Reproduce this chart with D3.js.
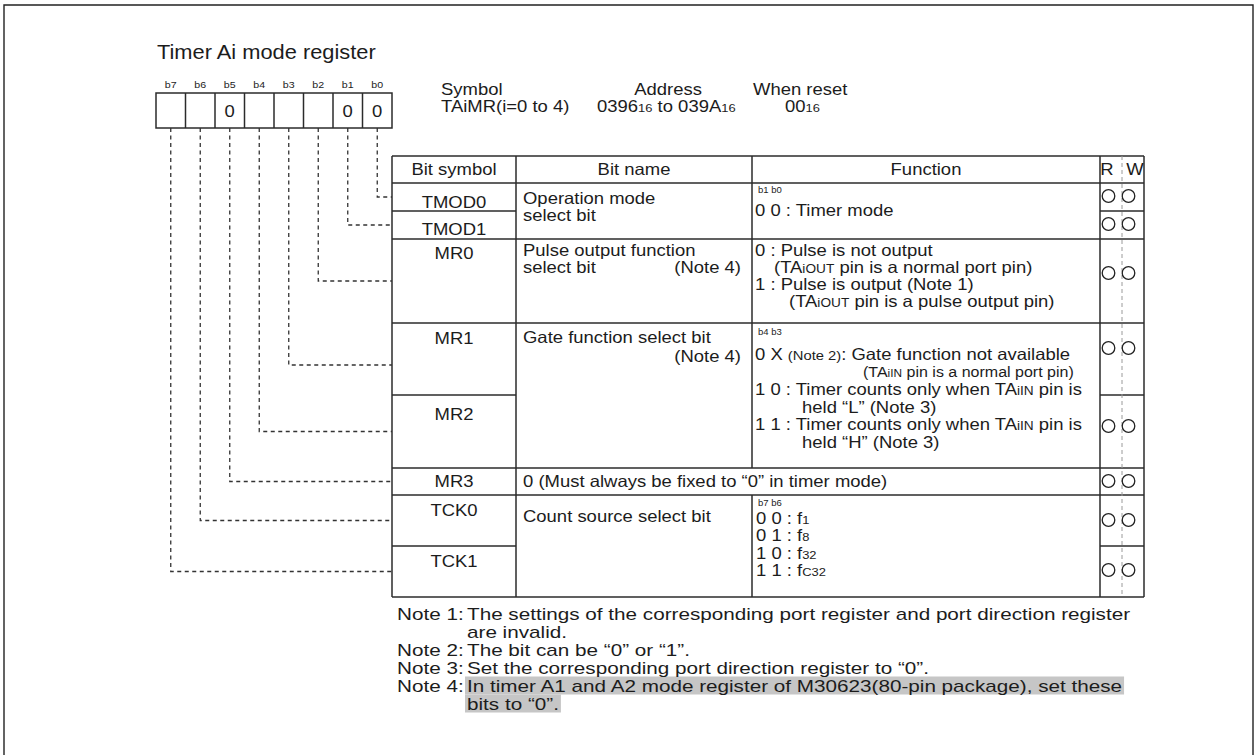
<!DOCTYPE html>
<html><head><meta charset="utf-8">
<script src="https://cdn.jsdelivr.net/npm/d3@7"></script>
<style>
html,body{margin:0;padding:0;background:#fff;}
svg{display:block;}
text{white-space:pre;}
</style></head><body>
<svg id="c" width="1257" height="755"></svg>
<script>
// ---------------- DATA (content only) ----------------
const title = "Timer Ai mode register";
const bitLabels = ["b7","b6","b5","b4","b3","b2","b1","b0"];
const bitValues = ["","","0","","","","0","0"];
const infoHeads = ["Symbol","Address","When reset"];
const infoValues = [
  ["TAiMR(i=0 to 4)"],
  ["0396",["16","sub"]," to 039A",["16","sub"]],
  ["00",["16","sub"]]
];
const headers = ["Bit symbol","Bit name","Function","R","W"];
const bitSymbols = ["TMOD0","TMOD1","MR0","MR1","MR2","MR3","TCK0","TCK1"];
const bitNames = [
  {rows:[0,1], lines:[["Operation mode"],["select bit"]]},
  {rows:[2],   lines:[["Pulse output function"],["select bit"]], right:[null,"(Note 4)"]},
  {rows:[3,4], lines:[["Gate function select bit"],[""]], right:[null,"(Note 4)"]},
  {rows:[5],   lines:[["0 (Must always be fixed to “0” in timer mode)"]], span:true},
  {rows:[6,7], lines:[["Count source select bit"]]}
];
const functionTexts = [
  {group:0, head:"b1 b0", lines:[["0 0 : Timer mode"]]},
  {group:1, head:null, lines:[
    ["0 : Pulse is not output"],
    ["(TA",["iOUT","sc"]," pin is a normal port pin)"],
    ["1 : Pulse is output (Note 1)"],
    ["(TA",["iOUT","sc"]," pin is a pulse output pin)"]]},
  {group:2, head:"b4 b3", lines:[
    ["0 X ",["(Note 2)","sm"],": Gate function not available"],
    ["(TA",["iIN","sc"]," pin is a normal port pin)"],
    ["1 0 : Timer counts only when TA",["iIN","sc"]," pin is"],
    ["held “L” (Note 3)"],
    ["1 1 : Timer counts only when TA",["iIN","sc"]," pin is"],
    ["held “H” (Note 3)"]]},
  {group:4, head:"b7 b6", lines:[
    ["0 0 : f",["1","sub"]],
    ["0 1 : f",["8","sub"]],
    ["1 0 : f",["32","sub"]],
    ["1 1 : f",["C32","sub"]]]}
];
const readWrite = ["RW","RW","RW","RW","RW","RW","RW","RW"];
const notes = [
  ["Note 1:","The settings of the corresponding port register and port direction register"],
  ["","are invalid."],
  ["Note 2:","The bit can be “0” or “1”."],
  ["Note 3:","Set the corresponding port direction register to “0”."],
  ["Note 4:","In timer A1 and A2 mode register of M30623(80-pin package), set these"],
  ["","bits to “0”."]
];
const highlightedNotes = [4,5];

// ---------------- LAYOUT ----------------
const SX = 1.12;
const FONT = "'Liberation Sans', Arial, Helvetica, sans-serif";
const INK = "#1c1c1c";
const LINE = "#2b2b2b";
const L = {
  frame:{x0:4, y0:5, x1:1253, y1:760},
  titleX:157, titleY:59, titleSize:19.5,
  box:{x0:156, x1:392, y0:93, y1:128}, bitLabelY:88, bitValueY:117,
  info:{x:[441,668,753], anchor:["start","middle","start"], y1:95,
        vx:[441,597,785], y2:112},
  cols:{c0:392, c1:516, c2:752, c3:1100, rw:1122, c4:1144},
  tableTop:156,
  rowEdges:[183,211,239,323,395,468,495,546,597],
  headY:175, headX:[454,634,926,1107,1135],
  symY:[207.5,235,258.5,344,420,486.5,516,567],
  nameX:523, nameRight:741,
  nameY:[[203.5,220.5],[256,273],[342.5,362],[486.5],[521.5]],
  fnHeadX:758,
  fnHeadY:{0:193, 2:335, 4:506},
  fnLineX:[[755],[755,774,755,789],[755,863,755,802,755,802],[756,756,756,756]],
  fnLineY:[[215.5],[256,273,290,307],[360,377,395,412.5,430,447.5],[523.5,541,558.5,576]],
  fnLineSize:[[16.5],[16.5,16.5,16.5,16.5],[16.5,14.3,16.5,16.5,16.5,16.5],[16.5,16.5,16.5,16.5]],
  rwCx:[1108.5,1128.5], rwCy:[196,224,273,348,426,481,520,570], rwR:6.3,
  noteX:397, noteIndentX:467, noteY:[620,638,656,674,692,710], noteSize:16.8, noteSX:1.232,
  fontSize:16.5
};

const svg = d3.select("#c").attr("font-family", FONT).style("font-family", FONT);

function txt(g, x, y, segs, size, anchor, sx){
  const t = g.append("text")
    .attr("transform", `translate(${x},${y}) scale(${sx || SX},1)`)
    .attr("font-size", size)
    .attr("fill", INK)
    .attr("text-anchor", anchor || "start");
  (Array.isArray(segs) ? segs : [segs]).forEach(s=>{
    const str = Array.isArray(s) ? s[0] : s;
    const kind = Array.isArray(s) ? s[1] : null;
    const ts = t.append("tspan").text(str);
    if (kind === "sub") ts.attr("font-size", size*0.70);
    if (kind === "sc") ts.attr("font-size", size*0.74);
    if (kind === "sm") ts.attr("font-size", size*0.80);
  });
  return t;
}
function line(g, x1,y1,x2,y2, opts){
  opts = opts || {};
  return g.append("line").attr("x1",x1).attr("y1",y1).attr("x2",x2).attr("y2",y2)
    .attr("stroke", opts.color || LINE).attr("stroke-width", opts.w || 1.5)
    .attr("stroke-dasharray", opts.dash || null).attr("stroke-linecap","butt");
}

// outer frame
svg.append("path")
  .attr("d", `M${L.frame.x0},${L.frame.y1}V${L.frame.y0}H${L.frame.x1}V${L.frame.y1}`)
  .attr("fill","none").attr("stroke","#222").attr("stroke-width",1.4);

// title
txt(svg, L.titleX, L.titleY, title, L.titleSize);

// bit boxes
const xb = d3.scaleBand().domain(bitLabels).range([L.box.x0, L.box.x1]);
const gBits = svg.append("g");
gBits.append("rect").attr("x",L.box.x0).attr("y",L.box.y0)
  .attr("width",L.box.x1-L.box.x0).attr("height",L.box.y1-L.box.y0)
  .attr("fill","none").attr("stroke",LINE).attr("stroke-width",1.5);
bitLabels.forEach((b,i)=>{
  if (i>0) line(gBits, xb(b), L.box.y0, xb(b), L.box.y1);
  txt(gBits, xb(b)+xb.bandwidth()/2, L.bitLabelY, b, 9.5, "middle");
  if (bitValues[i]) txt(gBits, xb(b)+xb.bandwidth()/2, L.bitValueY, bitValues[i], 16.5, "middle");
});

// info block
infoHeads.forEach((h,i)=> txt(svg, L.info.x[i], L.info.y1, h, L.fontSize, L.info.anchor[i]));
infoValues.forEach((v,i)=> txt(svg, L.info.vx[i], L.info.y2, v, L.fontSize, "start"));

// table
const C = L.cols, R = L.rowEdges, tTop = L.tableTop, tBot = R[R.length-1];
const gT = svg.append("g");
const groupEdges = [R[0]];
bitNames.forEach(g=> groupEdges.push(R[g.rows[g.rows.length-1]+1]));
line(gT, C.c0, tTop, C.c4, tTop);
groupEdges.forEach(y=> line(gT, C.c0, y, C.c4, y));
R.slice(1,-1).forEach(y=>{
  if (groupEdges.indexOf(y) < 0){
    line(gT, C.c0, y, C.c1, y);
    line(gT, C.c3, y, C.c4, y);
  }
});
[C.c0, C.c1, C.c3, C.c4].forEach(x=> line(gT, x, tTop, x, tBot));
bitNames.forEach(g=>{
  const y0 = R[g.rows[0]], y1 = R[g.rows[g.rows.length-1]+1];
  if (!g.span) line(gT, C.c2, y0, C.c2, y1);
});
line(gT, C.c2, tTop, C.c2, R[0]);
line(gT, C.rw, tTop, C.rw, tBot, {color:"#9a9a9a", w:1, dash:"4,3"});

headers.forEach((h,i)=> txt(gT, L.headX[i], L.headY, h, L.fontSize, "middle"));
bitSymbols.forEach((s,i)=> txt(gT, (C.c0+C.c1)/2, L.symY[i], s, L.fontSize, "middle"));
bitNames.forEach((g,gi)=>{
  g.lines.forEach((ln,li)=>{
    if (ln.length && ln[0] !== "") txt(gT, L.nameX, L.nameY[gi][li], ln, L.fontSize);
    if (g.right && g.right[li]) txt(gT, L.nameRight, L.nameY[gi][li], g.right[li], L.fontSize, "end");
  });
});
functionTexts.forEach((f,fi)=>{
  if (f.head) txt(gT, L.fnHeadX, L.fnHeadY[f.group], f.head, 8.5);
  f.lines.forEach((ln,li)=> txt(gT, L.fnLineX[fi][li], L.fnLineY[fi][li], ln, L.fnLineSize[fi][li]));
});
readWrite.forEach((m,i)=>{
  L.rwCx.forEach(cx=>{
    gT.append("circle").attr("cx",cx).attr("cy",L.rwCy[i]).attr("r",L.rwR)
      .attr("fill","none").attr("stroke","#222").attr("stroke-width",1.3);
  });
});

// leader dashed lines
const gLead = svg.append("g");
bitLabels.forEach((b,i)=>{
  const row = bitLabels.length-1-i;
  const cx = xb(b)+xb.bandwidth()/2;
  const y = (R[row]+R[row+1])/2 + (row===3 ? 6 : 0);
  gLead.append("path").attr("d", `M${cx},${L.box.y1}V${y}H${C.c0}`)
    .attr("fill","none").attr("stroke","#333").attr("stroke-width",1.3)
    .attr("stroke-dasharray","4,3.5");
});

// notes
const gN = svg.append("g");
const hlG = gN.append("g");
notes.forEach((n,i)=>{
  if (n[0]) txt(gN, L.noteX, L.noteY[i], n[0], L.noteSize, "start", L.noteSX);
  const t = txt(gN, L.noteIndentX, L.noteY[i], n[1], L.noteSize, "start", L.noteSX);
  if (highlightedNotes.indexOf(i) >= 0){
    const bb = t.node().getBoundingClientRect();
    const sb = svg.node().getBoundingClientRect();
    hlG.append("rect").attr("x", bb.left - sb.left - 2).attr("y", L.noteY[i]-15.5)
      .attr("width", bb.width + 4).attr("height", 18).attr("fill","#c6c6c6");
  }
});
</script>
</body></html>
